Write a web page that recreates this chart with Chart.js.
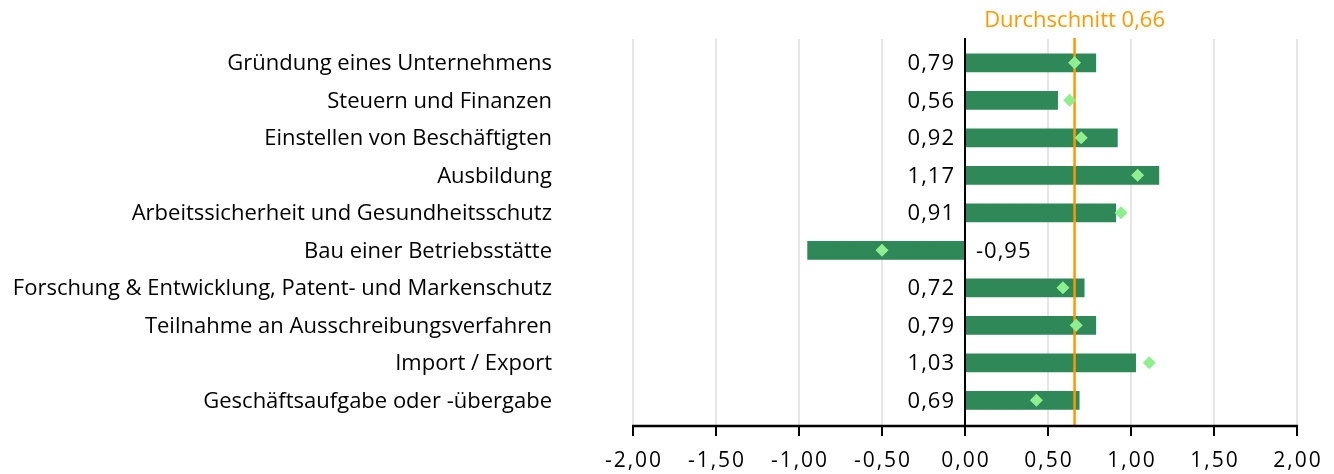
<!DOCTYPE html>
<html lang="de">
<head>
<meta charset="utf-8">
<title>Durchschnitt je Bereich</title>
<script src="https://cdn.jsdelivr.net/npm/chart.js@4.4.1/dist/chart.umd.min.js"></script>
<style>
  html, body { margin: 0; padding: 0; background: #fff; }
  #wrap { width: 1334px; height: 474px; position: relative; }
</style>
</head>
<body>
<div id="wrap"><canvas id="chart"></canvas></div>
<script>
// Bereiche (von oben nach unten)
const categories = [
    'Gründung eines Unternehmens',
    'Steuern und Finanzen',
    'Einstellen von Beschäftigten',
    'Ausbildung',
    'Arbeitssicherheit und Gesundheitsschutz',
    'Bau einer Betriebsstätte',
    'Forschung & Entwicklung, Patent- und Markenschutz',
    'Teilnahme an Ausschreibungsverfahren',
    'Import / Export',
    'Geschäftsaufgabe oder -übergabe'
];

// Balkenwerte
const barValues = [0.79, 0.56, 0.92, 1.17, 0.91, -0.95, 0.72, 0.79, 1.03, 0.69];

// Rautenmarker (Vergleichswerte)
const markerValues = [0.66, 0.63, 0.70, 1.04, 0.94, -0.50, 0.59, 0.67, 1.11, 0.43];

// Durchschnitt über alle Bereiche
const average = 0.66;

// Achsenbeschriftung
const axisTicks = [-2, -1.5, -1, -0.5, 0, 0.5, 1, 1.5, 2];

const FONT = '"Open Sans", "Noto Sans", sans-serif';
const fmt = v => v.toFixed(2).replace('.', ',');

const AXIS_TOP = 38;
const AXIS_Y = 426;

// Gitterlinien hinter den Balken
const gridPlugin = {
    id: 'gridPlugin',
    beforeDatasetsDraw(chart) {
        const { ctx, scales: { x } } = chart;
        ctx.save();
        ctx.strokeStyle = '#dedede';
        ctx.lineWidth = 1.5;
        axisTicks.forEach(v => {
            if (v === 0) return;
            const px = Math.round(x.getPixelForValue(v));
            ctx.beginPath();
            ctx.moveTo(px, AXIS_TOP + 1);
            ctx.lineTo(px, AXIS_Y);
            ctx.stroke();
        });
        ctx.restore();
    }
};

// Nulllinie, untere Achse mit Tickstrichen und alle Achsenbeschriftungen
const axesPlugin = {
    id: 'axesPlugin',
    afterDatasetsDraw(chart) {
        const { ctx, scales: { x, y }, chartArea } = chart;
        ctx.save();
        ctx.strokeStyle = '#000';
        ctx.lineWidth = 2;
        const zx = Math.round(x.getPixelForValue(0));
        ctx.beginPath();
        ctx.moveTo(zx, AXIS_TOP);
        ctx.lineTo(zx, AXIS_Y);
        ctx.stroke();

        ctx.lineWidth = 2.5;
        ctx.beginPath();
        ctx.moveTo(x.getPixelForValue(-2) - 1, AXIS_Y);
        ctx.lineTo(x.getPixelForValue(2) + 1, AXIS_Y);
        ctx.stroke();
        ctx.lineWidth = 2;
        axisTicks.forEach(v => {
            const px = Math.round(x.getPixelForValue(v));
            ctx.beginPath();
            ctx.moveTo(px, AXIS_Y);
            ctx.lineTo(px, AXIS_Y + 10);
            ctx.stroke();
        });

        // Zahlen unter der Achse etwas gesperrt
        ctx.fillStyle = '#000';
        ctx.font = '21px ' + FONT;
        ctx.letterSpacing = '2px';
        ctx.textAlign = 'center';
        ctx.textBaseline = 'middle';
        axisTicks.forEach(v => {
            ctx.fillText(fmt(v), x.getPixelForValue(v) + 1, 461);
        });
        ctx.letterSpacing = '0px';

        ctx.font = '22px ' + FONT;
        ctx.textAlign = 'right';
        categories.forEach((c, i) => {
            ctx.fillText(c, chartArea.left - 81, y.getPixelForValue(i) + 1);
        });

        // Wertbeschriftung auf der gegenüberliegenden Seite der Nulllinie
        const meta = chart.getDatasetMeta(0);
        ctx.letterSpacing = '1px';
        meta.data.forEach((bar, i) => {
            const v = barValues[i];
            ctx.textAlign = v >= 0 ? 'right' : 'left';
            ctx.fillText(fmt(v), v >= 0 ? zx - 10 : zx + 11, bar.y + 1);
        });
        ctx.restore();
    }
};

// Durchschnittslinie liegt über den Balken, aber unter den Rauten
const averagePlugin = {
    id: 'averagePlugin',
    beforeDatasetDraw(chart, args) {
        if (args.index !== 1) return;
        const { ctx, scales: { x } } = chart;
        const px = x.getPixelForValue(average);
        ctx.save();
        ctx.strokeStyle = '#ff9900';
        ctx.lineWidth = 2.5;
        ctx.beginPath();
        ctx.moveTo(px, AXIS_TOP);
        ctx.lineTo(px, AXIS_Y);
        ctx.stroke();
        ctx.fillStyle = '#ff9900';
        ctx.font = '22px ' + FONT;
        ctx.textAlign = 'center';
        ctx.textBaseline = 'alphabetic';
        ctx.fillText('Durchschnitt ' + fmt(average), px, 27);
        ctx.restore();
    }
};

new Chart(document.getElementById('chart'), {
    data: {
        labels: categories,
        datasets: [
            {
                type: 'bar',
                data: barValues,
                backgroundColor: '#2e8857',
                borderWidth: 0,
                categoryPercentage: 1,
                barPercentage: 0.5,
                order: 2
            },
            {
                type: 'line',
                data: markerValues,
                showLine: false,
                pointStyle: 'rectRot',
                pointRadius: 6.5,
                pointBackgroundColor: '#90ee90',
                pointBorderWidth: 0,
                order: 1
            }
        ]
    },
    options: {
        indexAxis: 'y',
        responsive: true,
        maintainAspectRatio: false,
        animation: false,
        layout: { padding: { top: 44, right: 37, left: 633, bottom: 55 } },
        plugins: {
            legend: { display: false },
            tooltip: { enabled: false }
        },
        scales: {
            x: { type: 'linear', min: -2, max: 2, display: false },
            y: { type: 'category', display: false }
        }
    },
    plugins: [gridPlugin, averagePlugin, axesPlugin]
});
</script>
</body>
</html>
